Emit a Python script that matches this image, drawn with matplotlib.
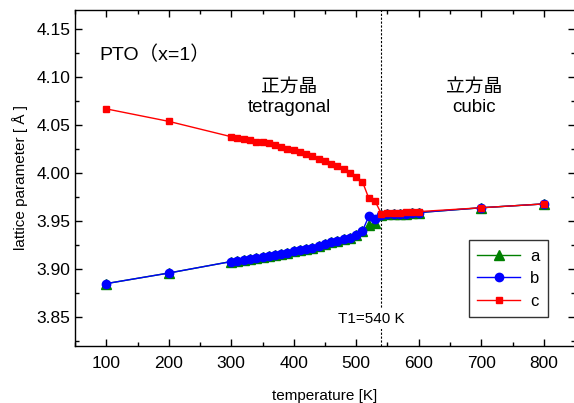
import matplotlib
matplotlib.use("Agg")
import matplotlib.pyplot as plt
from matplotlib.ticker import MultipleLocator

plt.rcParams['font.family'] = ['Liberation Sans', 'Noto Sans CJK JP', 'DejaVu Sans']

temperature = [100, 200, 300, 310, 320, 330, 340, 350, 360, 370, 380, 390, 400,
               410, 420, 430, 440, 450, 460, 470, 480, 490, 500, 510, 520, 530,
               540, 550, 560, 570, 580, 590, 600, 700, 800]
a_values = [3.885, 3.896, 3.908, 3.909, 3.910, 3.911, 3.912, 3.913, 3.914, 3.915,
            3.916, 3.917, 3.919, 3.920, 3.921, 3.922, 3.924, 3.926, 3.928, 3.929,
            3.931, 3.933, 3.936, 3.940, 3.946, 3.948,
            3.956, 3.957, 3.957, 3.958, 3.958, 3.959, 3.959, 3.964, 3.968]
b_values = [3.885, 3.896, 3.908, 3.909, 3.910, 3.911, 3.912, 3.913, 3.914, 3.915,
            3.916, 3.917, 3.919, 3.920, 3.921, 3.922, 3.924, 3.926, 3.928, 3.929,
            3.931, 3.933, 3.936, 3.940, 3.955, 3.952,
            3.956, 3.957, 3.957, 3.958, 3.958, 3.959, 3.959, 3.964, 3.968]
c_values = [4.067, 4.054, 4.038, 4.037, 4.036, 4.035, 4.033, 4.032, 4.031, 4.029,
            4.027, 4.025, 4.024, 4.022, 4.020, 4.018, 4.015, 4.013, 4.010, 4.007,
            4.004, 4.000, 3.996, 3.991, 3.974, 3.971,
            3.958, 3.959, 3.959, 3.959, 3.960, 3.960, 3.960, 3.964, 3.968]
transition_T = 540

fig = plt.figure(figsize=(5.74, 4.03), dpi=100)
ax = fig.add_axes([75/574, 1 - 346/403, 500/574, 336/403])

ax.plot(temperature, a_values, color='#008000', marker='^', markersize=6.5,
        linewidth=1.0, label='a', zorder=3)
ax.plot(temperature, b_values, color='#0000ff', marker='o', markersize=6,
        linewidth=1.0, label='b', zorder=4)
ax.plot(temperature, c_values, color='#ff0000', marker='s', markersize=5,
        linewidth=1.0, label='c', zorder=5)

ax.axvline(transition_T, color='black', linewidth=0.8, linestyle=(0, (2, 1.5)), zorder=2)

ax.set_xlim(50, 850)
ax.set_ylim(3.82, 4.17)
ax.xaxis.set_major_locator(MultipleLocator(100))
ax.xaxis.set_minor_locator(MultipleLocator(50))
ax.yaxis.set_major_locator(MultipleLocator(0.05))
ax.yaxis.set_minor_locator(MultipleLocator(0.025))
ax.yaxis.set_major_formatter(matplotlib.ticker.FormatStrFormatter('%.2f'))
ax.tick_params(which='both', direction='in', top=True, right=True, labelsize=12.5)
ax.tick_params(which='major', length=5, width=1)
ax.tick_params(which='minor', length=3, width=1)
ax.tick_params(axis='x', pad=7)
for s in ax.spines.values():
    s.set_linewidth(1.0)

ax.set_xlabel('temperature [K]', fontsize=11, labelpad=13)
ax.set_ylabel('lattice parameter [ Å ]', fontsize=11, labelpad=6)

ax.text(89, 4.123, 'PTO（x=1）', fontsize=14, ha='left', va='center')
ax.text(393, 4.089, '正方晶', fontsize=13.5, ha='center', va='center')
ax.text(393, 4.068, 'tetragonal', fontsize=13.5, ha='center', va='center')
ax.text(688, 4.089, '立方晶', fontsize=13.5, ha='center', va='center')
ax.text(688, 4.068, 'cubic', fontsize=13.5, ha='center', va='center')
ax.text(524, 3.848, 'T1=540 K', fontsize=11, ha='center', va='center', zorder=6,
        bbox=dict(facecolor='white', edgecolor='none', pad=2))

leg = ax.legend(loc='lower right', bbox_to_anchor=(0.946, 0.086), fontsize=12,
                frameon=True, fancybox=False, edgecolor='black', handlelength=2.6,
                handletextpad=0.6, borderpad=0.5, labelspacing=0.45, borderaxespad=0)
leg.get_frame().set_linewidth(1.0)

fig.savefig('out.png', dpi=100)
